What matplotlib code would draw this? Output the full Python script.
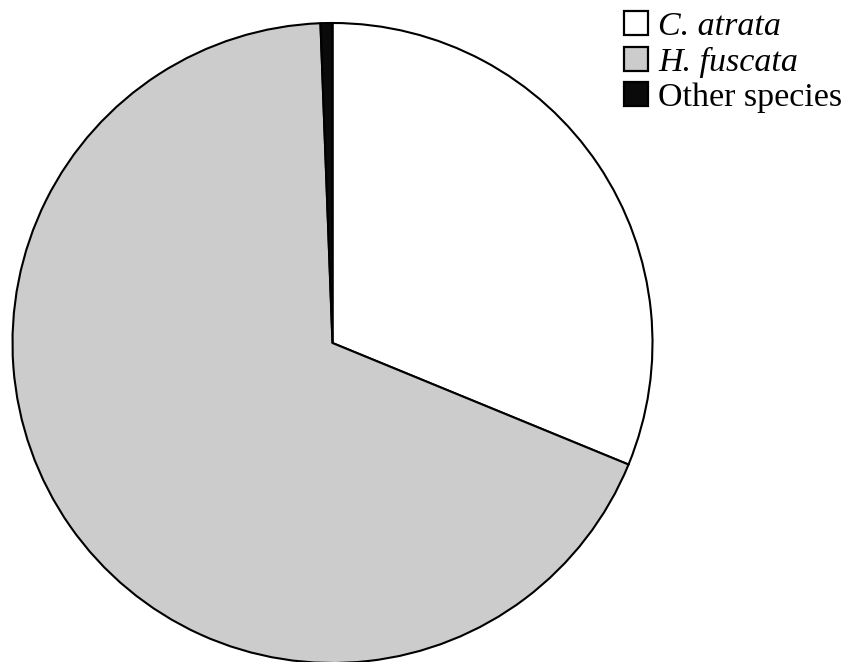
import matplotlib
matplotlib.use("Agg")
import matplotlib.pyplot as plt

labels = ["C. atrata", "H. fuscata", "Other species"]
values = [31.2, 68.2, 0.6]
colors = ["#ffffff", "#cccccc", "#0a0a0a"]
italic = [True, True, False]

plt.rcParams['font.family'] = ['Liberation Serif', 'DejaVu Serif']

W, H = 844, 662
fig = plt.figure(figsize=(W / 100, H / 100), dpi=100)
ax = fig.add_axes([0, 0, 1, 1])
ax.set_xlim(0, W)
ax.set_ylim(0, H)
ax.set_aspect('equal')
ax.axis('off')

wedges, _ = ax.pie(values, colors=colors, startangle=90, counterclock=False,
                   radius=320, center=(332.5, H - 343),
                   wedgeprops=dict(edgecolor='black', linewidth=1.5))
ax.set_xlim(0, W)
ax.set_ylim(0, H)

leg = ax.legend(wedges, labels, loc='upper left', bbox_to_anchor=(624 / W, 1 - 11 / H),
                bbox_transform=fig.transFigure, frameon=False, fontsize=24.5,
                handlelength=0.7, handleheight=0.7, handletextpad=0.3,
                labelspacing=0.14, borderaxespad=0, borderpad=0)
for t, it in zip(leg.get_texts(), italic):
    if it:
        t.set_style('italic')
for h in leg.legend_handles:
    h.set_linewidth(1.6)

fig.savefig("out.png", dpi=100)
